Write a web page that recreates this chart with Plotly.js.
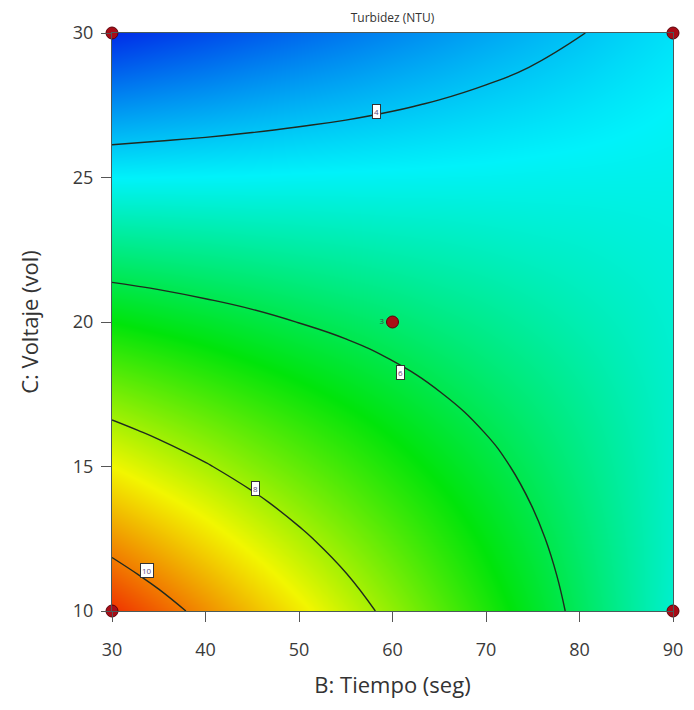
<!DOCTYPE html>
<html>
<head>
<meta charset="utf-8">
<script src="https://cdn.plot.ly/plotly-3.0.1.min.js"></script>
<style>html,body{margin:0;padding:0;background:#fff;}#chart{width:694px;height:710px;}</style>
</head>
<body>
<div id="chart"></div>
<script>
// B: Tiempo (seg) grid
const tiempo = [30, 35, 40, 45, 50, 55, 60, 65, 70, 75, 80, 85, 90];
// C: Voltaje (vol) grid
const voltaje = [10, 11.25, 12.5, 13.75, 15, 16.25, 17.5, 18.75, 20, 21.25, 22.5, 23.75, 25, 26.25, 27.5, 28.75, 30];
// Turbidez (NTU), one row per voltaje value
const turb10_00 = [10.78, 10.29, 9.79, 9.30, 8.81, 8.31, 7.82, 7.33, 6.84, 6.34, 5.85, 5.36, 4.86];
const turb11_25 = [10.25, 9.81, 9.36, 8.91, 8.46, 8.02, 7.57, 7.12, 6.67, 6.23, 5.78, 5.33, 4.89];
const turb12_50 = [9.73, 9.33, 8.92, 8.52, 8.12, 7.72, 7.31, 6.91, 6.51, 6.11, 5.70, 5.30, 4.90];
const turb13_75 = [9.20, 8.84, 8.49, 8.13, 7.77, 7.41, 7.05, 6.70, 6.34, 5.98, 5.62, 5.26, 4.90];
const turb15_00 = [8.68, 8.36, 8.05, 7.73, 7.42, 7.11, 6.79, 6.48, 6.16, 5.85, 5.53, 5.22, 4.90];
const turb16_25 = [8.15, 7.88, 7.61, 7.34, 7.07, 6.80, 6.52, 6.25, 5.98, 5.71, 5.44, 5.17, 4.89];
const turb17_50 = [7.63, 7.40, 7.17, 6.94, 6.71, 6.48, 6.25, 6.02, 5.79, 5.57, 5.34, 5.11, 4.88];
const turb18_75 = [7.10, 6.92, 6.73, 6.54, 6.35, 6.17, 5.98, 5.79, 5.60, 5.42, 5.23, 5.04, 4.85];
const turb20_00 = [6.58, 6.43, 6.29, 6.14, 5.99, 5.85, 5.70, 5.55, 5.41, 5.26, 5.11, 4.97, 4.82];
const turb21_25 = [6.05, 5.95, 5.84, 5.74, 5.63, 5.52, 5.42, 5.31, 5.21, 5.10, 4.99, 4.89, 4.78];
const turb22_50 = [5.53, 5.46, 5.40, 5.33, 5.26, 5.20, 5.13, 5.07, 5.00, 4.93, 4.87, 4.80, 4.74];
const turb23_75 = [5.00, 4.98, 4.95, 4.92, 4.90, 4.87, 4.84, 4.82, 4.79, 4.76, 4.74, 4.71, 4.68];
const turb25_00 = [4.48, 4.49, 4.50, 4.51, 4.53, 4.54, 4.55, 4.56, 4.57, 4.59, 4.60, 4.61, 4.62];
const turb26_25 = [3.95, 4.003, 4.05, 4.10, 4.15, 4.20, 4.25, 4.30, 4.35, 4.40, 4.45, 4.50, 4.55];
const turb27_50 = [3.43, 3.52, 3.60, 3.69, 3.78, 3.86, 3.95, 4.04, 4.13, 4.21, 4.30, 4.39, 4.48];
const turb28_75 = [2.90, 3.03, 3.15, 3.28, 3.40, 3.52, 3.65, 3.77, 3.90, 4.02, 4.14, 4.27, 4.39];
const turb30_00 = [2.38, 2.54, 2.70, 2.86, 3.02, 3.18, 3.34, 3.50, 3.66, 3.82, 3.98, 4.14, 4.30];
// contour levels
const levels = [4, 6, 8, 10];
// design points
const designB = [30, 30, 90, 90, 60];
const designC = [10, 30, 10, 30, 20];
const designLabel = ['', '', '', '', '3'];
// axis ticks
const xTicks = [30, 40, 50, 60, 70, 80, 90];
const yTicks = [10, 15, 20, 25, 30];

const zGrid = [turb10_00, turb11_25, turb12_50, turb13_75, turb15_00, turb16_25, turb17_50, turb18_75,
               turb20_00, turb21_25, turb22_50, turb23_75, turb25_00, turb26_25, turb27_50, turb28_75, turb30_00];
const FONT = 'Open Sans, Noto Sans, DejaVu Sans, sans-serif';
const cscale = [
  [0, 'rgb(0,45,232)'],
  [0.25, 'rgb(0,242,250)'],
  [0.5, 'rgb(0,228,10)'],
  [0.75, 'rgb(242,246,0)'],
  [1, 'rgb(240,50,0)']
];

const traces = [
  {
    type: 'heatmap', x: tiempo, y: voltaje, z: zGrid,
    zsmooth: 'best', colorscale: cscale, zmin: 2.38, zmax: 10.78,
    showscale: false, hoverinfo: 'skip'
  },
  {
    type: 'contour', x: tiempo, y: voltaje, z: zGrid,
    autocontour: false,
    contours: {start: levels[0], end: levels[levels.length - 1], size: 2, coloring: 'none', showlabels: false},
    line: {color: '#1f2a1f', width: 1.4, smoothing: 1.3},
    showscale: false, hoverinfo: 'skip'
  },
  {
    type: 'scatter', mode: 'markers+text', x: designB, y: designC,
    text: designLabel, textposition: 'middle left',
    textfont: {size: 8, color: '#444', family: FONT},
    marker: {size: 12, color: '#a80c16', line: {color: '#5a0008', width: 1}},
    cliponaxis: false, hoverinfo: 'skip'
  }
];

const labelBox = (txt, x, y) => ({
  x: x, y: y, xref: 'x', yref: 'y', text: txt, showarrow: false,
  font: {size: 8, color: '#5a4a7a', family: FONT},
  bgcolor: '#ffffff', bordercolor: '#333333', borderwidth: 1, borderpad: 1
});

const layout = {
  width: 694, height: 710,
  margin: {l: 112, r: 21, t: 33, b: 99},
  paper_bgcolor: '#ffffff', plot_bgcolor: '#ffffff',
  font: {family: FONT, color: '#3a3a3a'},
  showlegend: false,
  title: {text: 'Turbidez (NTU)', font: {size: 12, color: '#333', family: FONT},
          x: 0.5, xref: 'paper', y: 0.975, yref: 'container', yanchor: 'middle'},
  xaxis: {
    range: [30, 90], tickvals: xTicks, ticks: 'outside', ticklen: 10, tickwidth: 1, tickcolor: '#555',
    ticklabelstandoff: 12,
    showline: true, linecolor: '#4a5a5a', linewidth: 1, mirror: true, showgrid: false, zeroline: false,
    tickfont: {size: 18, color: '#3a3a3a', family: FONT},
    title: {text: 'B: Tiempo (seg)', font: {size: 22, color: '#333', family: FONT}, standoff: 18}
  },
  yaxis: {
    range: [10, 30], tickvals: yTicks, ticks: 'outside', ticklen: 10, tickwidth: 1, tickcolor: '#555',
    ticklabelstandoff: 4,
    showline: true, linecolor: '#4a5a5a', linewidth: 1, mirror: true, showgrid: false, zeroline: false,
    tickfont: {size: 18, color: '#3a3a3a', family: FONT},
    title: {text: 'C: Voltaje (vol)', font: {size: 22, color: '#333', family: FONT}, standoff: 28}
  },
  annotations: [
    labelBox('4', 58.3, 27.28),
    labelBox('6', 60.9, 18.25),
    labelBox('8', 45.4, 14.23),
    labelBox('10', 33.7, 11.39)
  ]
};

Plotly.newPlot('chart', traces, layout, {displayModeBar: false, staticPlot: true});
</script>
</body>
</html>
